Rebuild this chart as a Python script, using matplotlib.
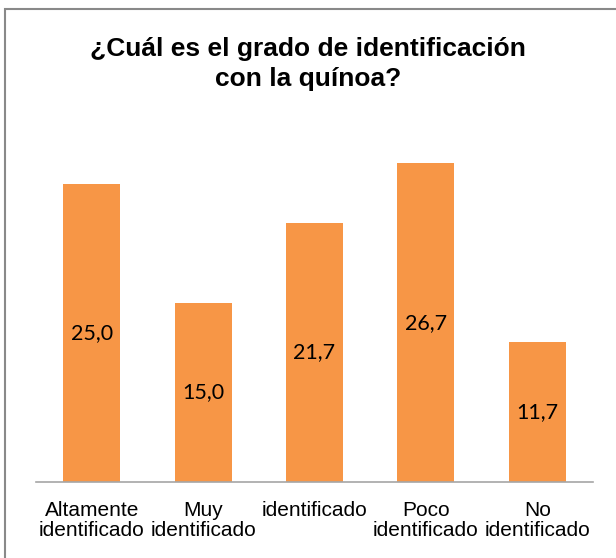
import matplotlib.pyplot as plt
from matplotlib.patches import Rectangle

categories = ["Altamente\nidentificado", "Muy\nidentificado", "identificado",
              "Poco\nidentificado", "No\nidentificado"]
values = [25.0, 15.0, 21.7, 26.7, 11.7]
labels = ["25,0", "15,0", "21,7", "26,7", "11,7"]

W, H = 616, 558
fig = plt.figure(figsize=(W / 100, H / 100), dpi=100)

# grey chart-area border (cropped at right and bottom)
fig.patches.append(Rectangle((5 / W, -0.1), 1.2, (H - 9) / H + 0.1,
                             transform=fig.transFigure, fill=False,
                             edgecolor="#898989", linewidth=1.5))

ax = fig.add_axes([36 / W, (H - 482) / H, (593 - 36) / W, (482 - 124) / H])
x = range(len(values))
bars = ax.bar(x, values, width=0.51, color="#F79646")
ax.set_xlim(-0.5, 4.5)
ax.set_ylim(0, 30)

for b, lab in zip(bars, labels):
    ax.text(b.get_x() + b.get_width() / 2, b.get_height() / 2, lab,
            ha="center", va="center", fontsize=15.5, family="Lato", color="black")

ax.set_yticks([])
ax.set_xticks([])
for s in ["top", "right", "left"]:
    ax.spines[s].set_visible(False)
ax.spines["bottom"].set_color("#A6A6A6")
ax.spines["bottom"].set_linewidth(1.2)

for i, c in enumerate(categories):
    ax.annotate(c, (i, 0), xytext=(0, -14), textcoords="offset points",
                ha="center", va="top", fontsize=15, family="Liberation Sans",
                linespacing=1.05)

fig.text(0.5, (H - 64) / H, "¿Cuál es el grado de identificación\ncon la quínoa?",
         ha="center", va="center", fontsize=19, fontweight="bold",
         family="Liberation Sans", linespacing=1.3)

fig.savefig("out.png", dpi=100)
